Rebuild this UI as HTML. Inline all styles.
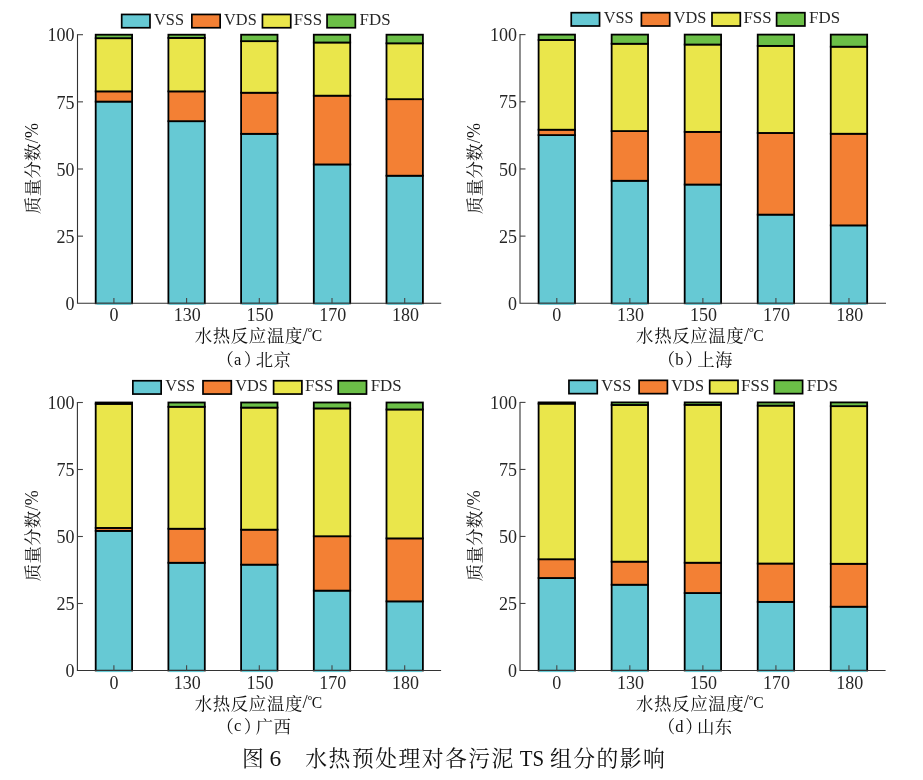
<!DOCTYPE html>
<html><head><meta charset="utf-8"><style>
html,body{margin:0;padding:0;background:#fff;}
svg{display:block;will-change:transform;}
.t{font-family:'Liberation Serif', serif;font-size:18px;fill:#262626;}
.lg{font-family:'Liberation Serif', serif;font-size:16.9px;fill:#262626;}
.sub{font-family:'Liberation Serif', serif;font-size:16.5px;fill:#111;}
.tl{font-family:'Liberation Serif', serif;}
.tl2{font-family:'Liberation Serif', serif;font-size:18.5px;fill:#111;}
.deg{font-family:'Liberation Serif', serif;font-size:13px;fill:#111;}
.c{font-family:'Liberation Serif', 'Noto Serif CJK SC', serif;font-size:17.4px;fill:#111;}
.cap{font-family:'Liberation Serif', 'Noto Serif CJK SC', serif;font-size:21.8px;fill:#111;}
.capl{font-family:'Liberation Serif', serif;font-size:23.5px;fill:#111;}
</style></head><body>
<svg width="923" height="780" viewBox="0 0 923 780">
<rect width="923" height="780" fill="#fff"/>
<rect x="95.7" y="101.58" width="36.4" height="201.72" fill="#66c9d4" stroke="#000" stroke-width="1.8"/>
<rect x="95.7" y="91.37" width="36.4" height="10.21" fill="#f38034" stroke="#000" stroke-width="1.8"/>
<rect x="95.7" y="38.19" width="36.4" height="53.18" fill="#eae64b" stroke="#000" stroke-width="1.8"/>
<rect x="95.7" y="34.7" width="36.4" height="3.49" fill="#6bbf47" stroke="#000" stroke-width="1.8"/>
<rect x="168.4" y="121.19" width="36.4" height="182.11" fill="#66c9d4" stroke="#000" stroke-width="1.8"/>
<rect x="168.4" y="91.37" width="36.4" height="29.81" fill="#f38034" stroke="#000" stroke-width="1.8"/>
<rect x="168.4" y="37.92" width="36.4" height="53.45" fill="#eae64b" stroke="#000" stroke-width="1.8"/>
<rect x="168.4" y="34.7" width="36.4" height="3.22" fill="#6bbf47" stroke="#000" stroke-width="1.8"/>
<rect x="241.1" y="133.81" width="36.4" height="169.49" fill="#66c9d4" stroke="#000" stroke-width="1.8"/>
<rect x="241.1" y="92.72" width="36.4" height="41.1" fill="#f38034" stroke="#000" stroke-width="1.8"/>
<rect x="241.1" y="41.15" width="36.4" height="51.57" fill="#eae64b" stroke="#000" stroke-width="1.8"/>
<rect x="241.1" y="34.7" width="36.4" height="6.45" fill="#6bbf47" stroke="#000" stroke-width="1.8"/>
<rect x="313.8" y="164.43" width="36.4" height="138.87" fill="#66c9d4" stroke="#000" stroke-width="1.8"/>
<rect x="313.8" y="95.67" width="36.4" height="68.76" fill="#f38034" stroke="#000" stroke-width="1.8"/>
<rect x="313.8" y="42.49" width="36.4" height="53.18" fill="#eae64b" stroke="#000" stroke-width="1.8"/>
<rect x="313.8" y="34.7" width="36.4" height="7.79" fill="#6bbf47" stroke="#000" stroke-width="1.8"/>
<rect x="386.5" y="175.71" width="36.4" height="127.59" fill="#66c9d4" stroke="#000" stroke-width="1.8"/>
<rect x="386.5" y="99.16" width="36.4" height="76.55" fill="#f38034" stroke="#000" stroke-width="1.8"/>
<rect x="386.5" y="43.3" width="36.4" height="55.87" fill="#eae64b" stroke="#000" stroke-width="1.8"/>
<rect x="386.5" y="34.7" width="36.4" height="8.6" fill="#6bbf47" stroke="#000" stroke-width="1.8"/>
<rect x="96.6" y="302.3" width="34.6" height="2.6" fill="#66c9d4"/>
<rect x="169.3" y="302.3" width="34.6" height="2.6" fill="#66c9d4"/>
<rect x="242" y="302.3" width="34.6" height="2.6" fill="#66c9d4"/>
<rect x="314.7" y="302.3" width="34.6" height="2.6" fill="#66c9d4"/>
<rect x="387.4" y="302.3" width="34.6" height="2.6" fill="#66c9d4"/>
<path d="M77.5 34.2V303.3H441.2" fill="none" stroke="#333" stroke-width="1.1"/>
<text x="74.6" y="310" class="t" text-anchor="end">0</text>
<path d="M77.5 236.15h5.5" stroke="#444" stroke-width="1.1"/>
<text x="74.6" y="242.85" class="t" text-anchor="end">25</text>
<path d="M77.5 169h5.5" stroke="#444" stroke-width="1.1"/>
<text x="74.6" y="175.7" class="t" text-anchor="end">50</text>
<path d="M77.5 101.85h5.5" stroke="#444" stroke-width="1.1"/>
<text x="74.6" y="108.55" class="t" text-anchor="end">75</text>
<path d="M77.5 34.7h5.5" stroke="#444" stroke-width="1.1"/>
<text x="74.6" y="41.4" class="t" text-anchor="end">100</text>
<path d="M113.9 303.3v-5.3" stroke="#444" stroke-width="1.1"/>
<text x="113.9" y="321.3" class="t" text-anchor="middle">0</text>
<path d="M186.6 303.3v-5.3" stroke="#444" stroke-width="1.1"/>
<text x="187.3" y="321.3" class="t" text-anchor="middle">130</text>
<path d="M259.3 303.3v-5.3" stroke="#444" stroke-width="1.1"/>
<text x="260" y="321.3" class="t" text-anchor="middle">150</text>
<path d="M332 303.3v-5.3" stroke="#444" stroke-width="1.1"/>
<text x="332.7" y="321.3" class="t" text-anchor="middle">170</text>
<path d="M404.7 303.3v-5.3" stroke="#444" stroke-width="1.1"/>
<text x="405.4" y="321.3" class="t" text-anchor="middle">180</text>
<rect x="121.7" y="14.45" width="28.3" height="13.3" fill="#66c9d4" stroke="#000" stroke-width="1.7"/>
<text transform="translate(154.1 25) scale(0.965 1)" class="lg">VSS</text>
<rect x="191.85" y="14.45" width="28.3" height="13.3" fill="#f38034" stroke="#000" stroke-width="1.7"/>
<text transform="translate(224.1 25) scale(0.965 1)" class="lg">VDS</text>
<rect x="262.45" y="14.45" width="28.3" height="13.3" fill="#eae64b" stroke="#000" stroke-width="1.7"/>
<text transform="translate(293.85 25) scale(1.0 1)" class="lg">FSS</text>
<rect x="327.05" y="14.45" width="28.3" height="13.3" fill="#6bbf47" stroke="#000" stroke-width="1.7"/>
<text transform="translate(359.55 25) scale(1.0 1)" class="lg">FDS</text>
<text transform="translate(38.7 214) rotate(-90)" class="c" style="letter-spacing:0.3px">质量分数<tspan class="tl" dy="-1.1" style="font-size:18px">/%</tspan></text>
<text x="194.7" y="342.3" class="c" style="letter-spacing:0.66px">水热反应温度</text>
<text x="302.5" y="341" class="tl2">/</text>
<text x="307.3" y="336.4" class="deg">°</text>
<text transform="translate(311.85 340.7) scale(0.92 1)" class="tl2" style="font-size:17px">C</text>
<text x="216.4" y="366" class="c">（</text>
<text x="233.9" y="364.8" class="sub">a</text>
<text x="243.85" y="366" class="c">）</text>
<text x="255.75" y="366" class="c" style="letter-spacing:0.4px">北京</text>
<rect x="538.6" y="135.09" width="36.4" height="168.21" fill="#66c9d4" stroke="#000" stroke-width="1.8"/>
<rect x="538.6" y="129.72" width="36.4" height="5.37" fill="#f38034" stroke="#000" stroke-width="1.8"/>
<rect x="538.6" y="39.97" width="36.4" height="89.75" fill="#eae64b" stroke="#000" stroke-width="1.8"/>
<rect x="538.6" y="34.6" width="36.4" height="5.37" fill="#6bbf47" stroke="#000" stroke-width="1.8"/>
<rect x="611.64" y="180.77" width="36.4" height="122.53" fill="#66c9d4" stroke="#000" stroke-width="1.8"/>
<rect x="611.64" y="131.06" width="36.4" height="49.71" fill="#f38034" stroke="#000" stroke-width="1.8"/>
<rect x="611.64" y="43.74" width="36.4" height="87.33" fill="#eae64b" stroke="#000" stroke-width="1.8"/>
<rect x="611.64" y="34.6" width="36.4" height="9.14" fill="#6bbf47" stroke="#000" stroke-width="1.8"/>
<rect x="684.68" y="184.53" width="36.4" height="118.77" fill="#66c9d4" stroke="#000" stroke-width="1.8"/>
<rect x="684.68" y="131.87" width="36.4" height="52.67" fill="#f38034" stroke="#000" stroke-width="1.8"/>
<rect x="684.68" y="44.54" width="36.4" height="87.33" fill="#eae64b" stroke="#000" stroke-width="1.8"/>
<rect x="684.68" y="34.6" width="36.4" height="9.94" fill="#6bbf47" stroke="#000" stroke-width="1.8"/>
<rect x="757.72" y="214.63" width="36.4" height="88.67" fill="#66c9d4" stroke="#000" stroke-width="1.8"/>
<rect x="757.72" y="132.94" width="36.4" height="81.68" fill="#f38034" stroke="#000" stroke-width="1.8"/>
<rect x="757.72" y="45.89" width="36.4" height="87.06" fill="#eae64b" stroke="#000" stroke-width="1.8"/>
<rect x="757.72" y="34.6" width="36.4" height="11.29" fill="#6bbf47" stroke="#000" stroke-width="1.8"/>
<rect x="830.76" y="225.38" width="36.4" height="77.92" fill="#66c9d4" stroke="#000" stroke-width="1.8"/>
<rect x="830.76" y="133.75" width="36.4" height="91.63" fill="#f38034" stroke="#000" stroke-width="1.8"/>
<rect x="830.76" y="46.69" width="36.4" height="87.06" fill="#eae64b" stroke="#000" stroke-width="1.8"/>
<rect x="830.76" y="34.6" width="36.4" height="12.09" fill="#6bbf47" stroke="#000" stroke-width="1.8"/>
<rect x="539.5" y="302.3" width="34.6" height="2.6" fill="#66c9d4"/>
<rect x="612.54" y="302.3" width="34.6" height="2.6" fill="#66c9d4"/>
<rect x="685.58" y="302.3" width="34.6" height="2.6" fill="#66c9d4"/>
<rect x="758.62" y="302.3" width="34.6" height="2.6" fill="#66c9d4"/>
<rect x="831.66" y="302.3" width="34.6" height="2.6" fill="#66c9d4"/>
<path d="M520 34.1V303.3H886" fill="none" stroke="#333" stroke-width="1.1"/>
<text x="517.1" y="310" class="t" text-anchor="end">0</text>
<path d="M520 236.12h5.5" stroke="#444" stroke-width="1.1"/>
<text x="517.1" y="242.82" class="t" text-anchor="end">25</text>
<path d="M520 168.95h5.5" stroke="#444" stroke-width="1.1"/>
<text x="517.1" y="175.65" class="t" text-anchor="end">50</text>
<path d="M520 101.78h5.5" stroke="#444" stroke-width="1.1"/>
<text x="517.1" y="108.48" class="t" text-anchor="end">75</text>
<path d="M520 34.6h5.5" stroke="#444" stroke-width="1.1"/>
<text x="517.1" y="41.3" class="t" text-anchor="end">100</text>
<path d="M556.8 303.3v-5.3" stroke="#444" stroke-width="1.1"/>
<text x="556.8" y="321.3" class="t" text-anchor="middle">0</text>
<path d="M629.84 303.3v-5.3" stroke="#444" stroke-width="1.1"/>
<text x="630.54" y="321.3" class="t" text-anchor="middle">130</text>
<path d="M702.88 303.3v-5.3" stroke="#444" stroke-width="1.1"/>
<text x="703.58" y="321.3" class="t" text-anchor="middle">150</text>
<path d="M775.92 303.3v-5.3" stroke="#444" stroke-width="1.1"/>
<text x="776.62" y="321.3" class="t" text-anchor="middle">170</text>
<path d="M848.96 303.3v-5.3" stroke="#444" stroke-width="1.1"/>
<text x="849.66" y="321.3" class="t" text-anchor="middle">180</text>
<rect x="571.25" y="12.7" width="28.3" height="13.3" fill="#66c9d4" stroke="#000" stroke-width="1.7"/>
<text transform="translate(603.65 23.25) scale(0.965 1)" class="lg">VSS</text>
<rect x="641.4" y="12.7" width="28.3" height="13.3" fill="#f38034" stroke="#000" stroke-width="1.7"/>
<text transform="translate(673.65 23.25) scale(0.965 1)" class="lg">VDS</text>
<rect x="712" y="12.7" width="28.3" height="13.3" fill="#eae64b" stroke="#000" stroke-width="1.7"/>
<text transform="translate(743.4 23.25) scale(1.0 1)" class="lg">FSS</text>
<rect x="776.6" y="12.7" width="28.3" height="13.3" fill="#6bbf47" stroke="#000" stroke-width="1.7"/>
<text transform="translate(809.1 23.25) scale(1.0 1)" class="lg">FDS</text>
<text transform="translate(481.3 214) rotate(-90)" class="c" style="letter-spacing:0.3px">质量分数<tspan class="tl" dy="-1.1" style="font-size:18px">/%</tspan></text>
<text x="636.1" y="342.3" class="c" style="letter-spacing:0.66px">水热反应温度</text>
<text x="743.9" y="341" class="tl2">/</text>
<text x="748.7" y="336.4" class="deg">°</text>
<text transform="translate(753.25 340.7) scale(0.92 1)" class="tl2" style="font-size:17px">C</text>
<text x="657.8" y="366" class="c">（</text>
<text x="675.3" y="364.8" class="sub">b</text>
<text x="685.25" y="366" class="c">）</text>
<text x="697.15" y="366" class="c" style="letter-spacing:0.4px">上海</text>
<rect x="95.7" y="530.87" width="36.4" height="139.63" fill="#66c9d4" stroke="#000" stroke-width="1.8"/>
<rect x="95.7" y="527.92" width="36.4" height="2.95" fill="#f38034" stroke="#000" stroke-width="1.8"/>
<rect x="95.7" y="403.84" width="36.4" height="124.08" fill="#eae64b" stroke="#000" stroke-width="1.8"/>
<rect x="95.7" y="402.5" width="36.4" height="1.34" fill="#6bbf47" stroke="#000" stroke-width="1.8"/>
<rect x="168.4" y="562.76" width="36.4" height="107.74" fill="#66c9d4" stroke="#000" stroke-width="1.8"/>
<rect x="168.4" y="528.73" width="36.4" height="34.04" fill="#f38034" stroke="#000" stroke-width="1.8"/>
<rect x="168.4" y="406.79" width="36.4" height="121.94" fill="#eae64b" stroke="#000" stroke-width="1.8"/>
<rect x="168.4" y="402.5" width="36.4" height="4.29" fill="#6bbf47" stroke="#000" stroke-width="1.8"/>
<rect x="241.1" y="564.64" width="36.4" height="105.86" fill="#66c9d4" stroke="#000" stroke-width="1.8"/>
<rect x="241.1" y="529.67" width="36.4" height="34.97" fill="#f38034" stroke="#000" stroke-width="1.8"/>
<rect x="241.1" y="407.59" width="36.4" height="122.07" fill="#eae64b" stroke="#000" stroke-width="1.8"/>
<rect x="241.1" y="402.5" width="36.4" height="5.09" fill="#6bbf47" stroke="#000" stroke-width="1.8"/>
<rect x="313.8" y="590.64" width="36.4" height="79.86" fill="#66c9d4" stroke="#000" stroke-width="1.8"/>
<rect x="313.8" y="536.23" width="36.4" height="54.4" fill="#f38034" stroke="#000" stroke-width="1.8"/>
<rect x="313.8" y="408.4" width="36.4" height="127.84" fill="#eae64b" stroke="#000" stroke-width="1.8"/>
<rect x="313.8" y="402.5" width="36.4" height="5.9" fill="#6bbf47" stroke="#000" stroke-width="1.8"/>
<rect x="386.5" y="601.36" width="36.4" height="69.14" fill="#66c9d4" stroke="#000" stroke-width="1.8"/>
<rect x="386.5" y="538.38" width="36.4" height="62.98" fill="#f38034" stroke="#000" stroke-width="1.8"/>
<rect x="386.5" y="409.47" width="36.4" height="128.91" fill="#eae64b" stroke="#000" stroke-width="1.8"/>
<rect x="386.5" y="402.5" width="36.4" height="6.97" fill="#6bbf47" stroke="#000" stroke-width="1.8"/>
<rect x="96.6" y="669.5" width="34.6" height="2.6" fill="#66c9d4"/>
<rect x="169.3" y="669.5" width="34.6" height="2.6" fill="#66c9d4"/>
<rect x="242" y="669.5" width="34.6" height="2.6" fill="#66c9d4"/>
<rect x="314.7" y="669.5" width="34.6" height="2.6" fill="#66c9d4"/>
<rect x="387.4" y="669.5" width="34.6" height="2.6" fill="#66c9d4"/>
<path d="M77.4 402V670.5H441.1" fill="none" stroke="#333" stroke-width="1.1"/>
<text x="74.5" y="677.2" class="t" text-anchor="end">0</text>
<path d="M77.4 603.5h5.5" stroke="#444" stroke-width="1.1"/>
<text x="74.5" y="610.2" class="t" text-anchor="end">25</text>
<path d="M77.4 536.5h5.5" stroke="#444" stroke-width="1.1"/>
<text x="74.5" y="543.2" class="t" text-anchor="end">50</text>
<path d="M77.4 469.5h5.5" stroke="#444" stroke-width="1.1"/>
<text x="74.5" y="476.2" class="t" text-anchor="end">75</text>
<path d="M77.4 402.5h5.5" stroke="#444" stroke-width="1.1"/>
<text x="74.5" y="409.2" class="t" text-anchor="end">100</text>
<path d="M113.9 670.5v-5.3" stroke="#444" stroke-width="1.1"/>
<text x="113.9" y="688.5" class="t" text-anchor="middle">0</text>
<path d="M186.6 670.5v-5.3" stroke="#444" stroke-width="1.1"/>
<text x="187.3" y="688.5" class="t" text-anchor="middle">130</text>
<path d="M259.3 670.5v-5.3" stroke="#444" stroke-width="1.1"/>
<text x="260" y="688.5" class="t" text-anchor="middle">150</text>
<path d="M332 670.5v-5.3" stroke="#444" stroke-width="1.1"/>
<text x="332.7" y="688.5" class="t" text-anchor="middle">170</text>
<path d="M404.7 670.5v-5.3" stroke="#444" stroke-width="1.1"/>
<text x="405.4" y="688.5" class="t" text-anchor="middle">180</text>
<rect x="132.85" y="380.75" width="28.3" height="13.3" fill="#66c9d4" stroke="#000" stroke-width="1.7"/>
<text transform="translate(165.25 391.3) scale(0.965 1)" class="lg">VSS</text>
<rect x="203" y="380.75" width="28.3" height="13.3" fill="#f38034" stroke="#000" stroke-width="1.7"/>
<text transform="translate(235.25 391.3) scale(0.965 1)" class="lg">VDS</text>
<rect x="273.6" y="380.75" width="28.3" height="13.3" fill="#eae64b" stroke="#000" stroke-width="1.7"/>
<text transform="translate(305 391.3) scale(1.0 1)" class="lg">FSS</text>
<rect x="338.2" y="380.75" width="28.3" height="13.3" fill="#6bbf47" stroke="#000" stroke-width="1.7"/>
<text transform="translate(370.7 391.3) scale(1.0 1)" class="lg">FDS</text>
<text transform="translate(38.7 581.2) rotate(-90)" class="c" style="letter-spacing:0.3px">质量分数<tspan class="tl" dy="-1.1" style="font-size:18px">/%</tspan></text>
<text x="194.7" y="709.7" class="c" style="letter-spacing:0.66px">水热反应温度</text>
<text x="302.5" y="708.4" class="tl2">/</text>
<text x="307.3" y="703.8" class="deg">°</text>
<text transform="translate(311.85 708.1) scale(0.92 1)" class="tl2" style="font-size:17px">C</text>
<text x="216.4" y="733.4" class="c">（</text>
<text x="233.9" y="731" class="sub">c</text>
<text x="243.85" y="733.4" class="c">）</text>
<text x="255.75" y="733.4" class="c" style="letter-spacing:0.4px">广西</text>
<rect x="538.6" y="578.01" width="36.4" height="92.49" fill="#66c9d4" stroke="#000" stroke-width="1.8"/>
<rect x="538.6" y="559.24" width="36.4" height="18.77" fill="#f38034" stroke="#000" stroke-width="1.8"/>
<rect x="538.6" y="403.61" width="36.4" height="155.63" fill="#eae64b" stroke="#000" stroke-width="1.8"/>
<rect x="538.6" y="402.4" width="36.4" height="1.21" fill="#6bbf47" stroke="#000" stroke-width="1.8"/>
<rect x="611.64" y="584.71" width="36.4" height="85.79" fill="#66c9d4" stroke="#000" stroke-width="1.8"/>
<rect x="611.64" y="561.65" width="36.4" height="23.06" fill="#f38034" stroke="#000" stroke-width="1.8"/>
<rect x="611.64" y="404.95" width="36.4" height="156.7" fill="#eae64b" stroke="#000" stroke-width="1.8"/>
<rect x="611.64" y="402.4" width="36.4" height="2.55" fill="#6bbf47" stroke="#000" stroke-width="1.8"/>
<rect x="684.68" y="593.02" width="36.4" height="77.48" fill="#66c9d4" stroke="#000" stroke-width="1.8"/>
<rect x="684.68" y="562.72" width="36.4" height="30.3" fill="#f38034" stroke="#000" stroke-width="1.8"/>
<rect x="684.68" y="404.81" width="36.4" height="157.91" fill="#eae64b" stroke="#000" stroke-width="1.8"/>
<rect x="684.68" y="402.4" width="36.4" height="2.41" fill="#6bbf47" stroke="#000" stroke-width="1.8"/>
<rect x="757.72" y="601.87" width="36.4" height="68.63" fill="#66c9d4" stroke="#000" stroke-width="1.8"/>
<rect x="757.72" y="563.53" width="36.4" height="38.34" fill="#f38034" stroke="#000" stroke-width="1.8"/>
<rect x="757.72" y="405.62" width="36.4" height="157.91" fill="#eae64b" stroke="#000" stroke-width="1.8"/>
<rect x="757.72" y="402.4" width="36.4" height="3.22" fill="#6bbf47" stroke="#000" stroke-width="1.8"/>
<rect x="830.76" y="606.69" width="36.4" height="63.81" fill="#66c9d4" stroke="#000" stroke-width="1.8"/>
<rect x="830.76" y="563.8" width="36.4" height="42.9" fill="#f38034" stroke="#000" stroke-width="1.8"/>
<rect x="830.76" y="406.15" width="36.4" height="157.64" fill="#eae64b" stroke="#000" stroke-width="1.8"/>
<rect x="830.76" y="402.4" width="36.4" height="3.75" fill="#6bbf47" stroke="#000" stroke-width="1.8"/>
<rect x="539.5" y="669.5" width="34.6" height="2.6" fill="#66c9d4"/>
<rect x="612.54" y="669.5" width="34.6" height="2.6" fill="#66c9d4"/>
<rect x="685.58" y="669.5" width="34.6" height="2.6" fill="#66c9d4"/>
<rect x="758.62" y="669.5" width="34.6" height="2.6" fill="#66c9d4"/>
<rect x="831.66" y="669.5" width="34.6" height="2.6" fill="#66c9d4"/>
<path d="M520 401.9V670.5H885.6" fill="none" stroke="#333" stroke-width="1.1"/>
<text x="517.1" y="677.2" class="t" text-anchor="end">0</text>
<path d="M520 603.48h5.5" stroke="#444" stroke-width="1.1"/>
<text x="517.1" y="610.18" class="t" text-anchor="end">25</text>
<path d="M520 536.45h5.5" stroke="#444" stroke-width="1.1"/>
<text x="517.1" y="543.15" class="t" text-anchor="end">50</text>
<path d="M520 469.43h5.5" stroke="#444" stroke-width="1.1"/>
<text x="517.1" y="476.12" class="t" text-anchor="end">75</text>
<path d="M520 402.4h5.5" stroke="#444" stroke-width="1.1"/>
<text x="517.1" y="409.1" class="t" text-anchor="end">100</text>
<path d="M556.8 670.5v-5.3" stroke="#444" stroke-width="1.1"/>
<text x="556.8" y="688.5" class="t" text-anchor="middle">0</text>
<path d="M629.84 670.5v-5.3" stroke="#444" stroke-width="1.1"/>
<text x="630.54" y="688.5" class="t" text-anchor="middle">130</text>
<path d="M702.88 670.5v-5.3" stroke="#444" stroke-width="1.1"/>
<text x="703.58" y="688.5" class="t" text-anchor="middle">150</text>
<path d="M775.92 670.5v-5.3" stroke="#444" stroke-width="1.1"/>
<text x="776.62" y="688.5" class="t" text-anchor="middle">170</text>
<path d="M848.96 670.5v-5.3" stroke="#444" stroke-width="1.1"/>
<text x="849.66" y="688.5" class="t" text-anchor="middle">180</text>
<rect x="568.95" y="380.35" width="28.3" height="13.3" fill="#66c9d4" stroke="#000" stroke-width="1.7"/>
<text transform="translate(601.35 390.9) scale(0.965 1)" class="lg">VSS</text>
<rect x="639.1" y="380.35" width="28.3" height="13.3" fill="#f38034" stroke="#000" stroke-width="1.7"/>
<text transform="translate(671.35 390.9) scale(0.965 1)" class="lg">VDS</text>
<rect x="709.7" y="380.35" width="28.3" height="13.3" fill="#eae64b" stroke="#000" stroke-width="1.7"/>
<text transform="translate(741.1 390.9) scale(1.0 1)" class="lg">FSS</text>
<rect x="774.3" y="380.35" width="28.3" height="13.3" fill="#6bbf47" stroke="#000" stroke-width="1.7"/>
<text transform="translate(806.8 390.9) scale(1.0 1)" class="lg">FDS</text>
<text transform="translate(481.3 581.2) rotate(-90)" class="c" style="letter-spacing:0.3px">质量分数<tspan class="tl" dy="-1.1" style="font-size:18px">/%</tspan></text>
<text x="636" y="709.7" class="c" style="letter-spacing:0.66px">水热反应温度</text>
<text x="743.8" y="708.4" class="tl2">/</text>
<text x="748.6" y="703.8" class="deg">°</text>
<text transform="translate(753.15 708.1) scale(0.92 1)" class="tl2" style="font-size:17px">C</text>
<text x="657.7" y="733.4" class="c">（</text>
<text x="675.2" y="732.2" class="sub">d</text>
<text x="685.15" y="733.4" class="c">）</text>
<text x="697.05" y="733.4" class="c" style="letter-spacing:0.4px">山东</text>
<text x="242.0" y="766.2" class="cap">图</text>
<text x="269.4" y="765.9" class="capl">6</text>
<text x="305.35" y="766.2" class="cap" style="letter-spacing:1.47px">水热预处理对各污泥</text>
<text transform="translate(519.8 765.9) scale(0.89 1)" class="capl">TS</text>
<text x="549.95" y="766.2" class="cap" style="letter-spacing:1.47px">组分的影响</text>
</svg>
</body></html>
